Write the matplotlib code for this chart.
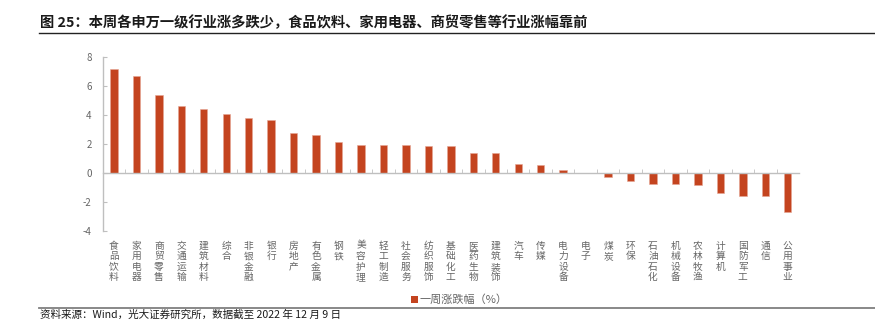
import numpy as np
import matplotlib
matplotlib.use('Agg')
import matplotlib.pyplot as plt
from matplotlib.lines import Line2D
from matplotlib.patches import Patch
import matplotlib.transforms as mtransforms

plt.rcParams['font.family'] = ['Noto Sans CJK SC', 'DejaVu Sans']
plt.rcParams['axes.unicode_minus'] = False

industries = ['食品饮料', '家用电器', '商贸零售', '交通运输', '建筑材料', '综合', '非银金融', '银行',
              '房地产', '有色金属', '钢铁', '美容护理', '轻工制造', '社会服务', '纺织服饰', '基础化工',
              '医药生物', '建筑装饰', '汽车', '传媒', '电力设备', '电子', '煤炭', '环保',
              '石油石化', '机械设备', '农林牧渔', '计算机', '国防军工', '通信', '公用事业']
weekly_change = [7.19, 6.73, 5.40, 4.64, 4.41, 4.09, 3.79, 3.65,
                 2.78, 2.64, 2.16, 1.95, 1.93, 1.93, 1.88, 1.88,
                 1.38, 1.38, 0.64, 0.57, 0.23, 0.0, -0.23, -0.53,
                 -0.76, -0.76, -0.78, -1.33, -1.59, -1.59, -2.67]
yticks = [-4, -2, 0, 2, 4, 6, 8]

title = '图 25：本周各申万一级行业涨多跌少，食品饮料、家用电器、商贸零售等行业涨幅靠前'
source = '资料来源：Wind，光大证券研究所，数据截至 2022 年 12 月 9 日'
legend_label = '一周涨跌幅（%）'

bar_color = '#C4441F'
grey = '#666666'
axis_grey = '#BFBFBF'

fig = plt.figure(figsize=(8.75, 3.34), dpi=100)
ax = fig.add_axes([0.1174, 0.3075, 0.7957, 0.5209])

x = np.arange(len(industries))
ax.bar(x, weekly_change, width=0.33, color=bar_color, edgecolor='#E5A595', linewidth=0.4)

ax.set_xlim(-0.5, len(industries) - 0.5)
ax.set_ylim(-4, 8)
ax.set_yticks(yticks)
ax.set_yticklabels([str(t) for t in yticks], color=grey, fontsize=7)

for s in ['top', 'right']:
    ax.spines[s].set_visible(False)
ax.spines['bottom'].set_position(('data', 0))
ax.spines['bottom'].set_color(axis_grey)
ax.spines['left'].set_color(axis_grey)
ax.spines['bottom'].set_linewidth(1.0)
ax.spines['left'].set_linewidth(1.0)

ax.set_xticks([])
ax.set_xticks(np.arange(0.5, len(industries) - 0.5), minor=True)
ax.tick_params(axis='x', which='minor', direction='in', length=3, color=axis_grey, labelbottom=False)
ax.tick_params(axis='y', direction='in', length=3, color=axis_grey, pad=8)

# vertical category labels below the plot
trans = mtransforms.blended_transform_factory(ax.transData, ax.transAxes)
for i, name in enumerate(industries):
    ax.text(i, -0.055, '\n'.join(name), transform=trans, ha='center', va='top',
            fontsize=7.0, color=grey, linespacing=1.05)

# legend
handle = Patch(facecolor=bar_color, edgecolor='none')
fig.legend([handle], [legend_label], loc='center', bbox_to_anchor=(0.525, 0.102),
           frameon=False, fontsize=8, handlelength=0.6, handleheight=0.6,
           handletextpad=0.2, labelcolor=grey)

# title and source
fig.text(40 / 875, 1 - 23 / 334, title, fontsize=10.3, fontweight='bold', color='#1A1A1A',
         ha='left', va='center')
fig.add_artist(Line2D([39 / 875, 1.0], [1 - 33 / 334, 1 - 33 / 334], color='#222222', linewidth=1.0))
fig.add_artist(Line2D([39 / 875, 1.0], [1 - 307.5 / 334, 1 - 307.5 / 334], color='#7F7F7F', linewidth=1.3))
fig.text(40 / 875, 1 - 315 / 334, source, fontsize=7.6, color='#1A1A1A', ha='left', va='center')

fig.savefig('out.png', dpi=100)
